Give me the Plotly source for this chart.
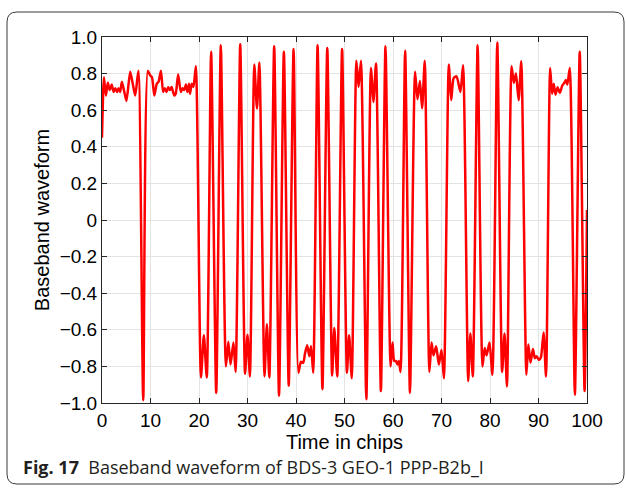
import plotly.graph_objects as go

# Time (chips) and amplitude of the waveform's key points
t = [0, 0.4, 0.8, 1.2, 1.6, 2.0, 2.4, 2.75, 3.1, 3.4, 3.75, 4.1, 4.6, 5.05, 5.8, 6.3, 6.85, 7.5,
     8.5, 9.45, 9.95, 10.3, 10.8, 11.3, 11.65, 12.15, 12.6, 12.95, 13.3, 13.65, 14.0, 14.35,
     14.9, 15.2, 15.7, 16.25, 16.6, 16.95, 17.3, 17.6, 17.95, 18.15, 18.5, 18.85, 19.35,
     20.4, 21.0, 21.6, 22.5, 23.55, 24.5, 25.55, 26.05, 26.5, 27.1, 27.55, 28.5, 29.5, 30.0,
     30.5, 31.4, 31.95, 32.45, 33.5, 34.0, 34.5, 35.5, 36.5, 37.5, 38.5, 39.5, 40.5, 41.0,
     41.5, 41.85, 42.3, 42.75, 43.1, 43.55, 44.45, 45.45, 46.45, 47.45, 47.9, 48.5, 49.5,
     50.5, 50.95, 51.5, 52.45, 52.9, 53.4, 54.5, 55.45, 55.95, 56.5, 57.5, 58.45, 59.5,
     59.9, 60.25, 60.6, 60.9, 61.2, 61.55, 62.5, 63.5, 64.55, 65.05, 65.55, 66.0, 66.55,
     67.5, 67.95, 68.35, 68.9, 69.45, 70.0, 70.5, 71.5, 72.0, 72.5, 73.1, 73.9, 74.45,
     75.5, 75.95, 76.45, 77.45, 78.45, 78.9, 79.3, 79.9, 80.5, 81.5, 82.5, 83.0, 83.5,
     84.45, 84.9, 85.35, 85.9, 86.45, 87.5, 87.9, 88.35, 88.85, 89.25, 89.6, 90.1, 90.5,
     91.05, 91.55, 92.4, 92.8, 93.15, 93.5, 93.95, 94.4, 94.9, 95.35, 95.65, 95.95, 96.45,
     97.5, 98.5, 99.5, 100]
v = [0.45, 0.78, 0.68, 0.75, 0.71, 0.74, 0.70, 0.72, 0.70, 0.72, 0.70, 0.755, 0.70, 0.65, 0.81, 0.75, 0.68, 0.815,
     -0.985, 0.815, 0.79, 0.78, 0.68, 0.745, 0.755, 0.815, 0.70, 0.72, 0.70, 0.725, 0.71, 0.727,
     0.68, 0.69, 0.795, 0.70, 0.72, 0.71, 0.74, 0.70, 0.745, 0.69, 0.745, 0.727, 0.84,
     -0.86, -0.63, -0.86, 0.92, -0.945, 0.955, -0.80, -0.665, -0.79, -0.67, -0.83, 0.96, -0.84, -0.627,
     -0.855, 0.85, 0.61, 0.86, -0.855, -0.57, -0.86, 0.95, -0.96, 0.92, -0.905, 0.935, -0.835, -0.775,
     -0.78, -0.73, -0.685, -0.745, -0.69, -0.835, 0.955, -0.925, 0.94, -0.85, -0.59, -0.855, 0.935,
     -0.835, -0.63, -0.865, 0.87, 0.727, 0.87, -0.98, 0.83, 0.645, 0.855, -0.935, 0.95, -0.80,
     -0.67, -0.77, -0.77, -0.79, -0.77, -0.83, 0.925, -0.945, 0.81, 0.66, 0.76, 0.61, 0.87,
     -0.83, -0.67, -0.74, -0.69, -0.79, -0.71, -0.865, 0.85, 0.655, 0.775, 0.785, 0.70, 0.845,
     -0.88, -0.62, -0.855, 0.955, -0.80, -0.70, -0.74, -0.67, -0.845, 0.97, -0.83, -0.62, -0.91,
     0.84, 0.75, 0.80, 0.655, 0.867, -0.845, -0.68, -0.78, -0.705, -0.755, -0.745, -0.765, -0.75,
     -0.615, -0.855, 0.83, 0.69, 0.745, 0.685, 0.725, 0.695, 0.735, 0.75, 0.765, 0.74, 0.83,
     -0.955, 0.92, -0.935, 0.055]

x_ticks = [0, 10, 20, 30, 40, 50, 60, 70, 80, 90, 100]
y_tick_vals = [1.0, 0.8, 0.6, 0.4, 0.2, 0, -0.2, -0.4, -0.6, -0.8, -1.0]
y_tick_text = ["1.0", "0.8", "0.6", "0.4", "0.2", "0", "\u22120.2", "\u22120.4", "\u22120.6",
               "\u22120.8", "\u22121.0"]

W, H = 626, 495
L, R, T, B = 102, 39, 37, 92
PW, PH = W - L - R, H - T - B


def px(xp):
    return (xp - L) / PW


def py(yp):
    return (H - B - yp) / PH


fig = go.Figure(go.Scatter(x=t, y=v, mode="lines",
                           line=dict(color="#ff0000", width=2.5, shape="spline", smoothing=0.6),
                           hoverinfo="skip"))

tick_font = dict(family="Liberation Sans, Arial, sans-serif", size=19, color="#000000")
title_font = dict(family="Liberation Sans, Arial, sans-serif", size=20, color="#000000")

fig.update_xaxes(range=[0, 100], tickvals=x_ticks, ticks="inside", ticklen=5,
                 tickcolor="#262626", showline=True, linecolor="#262626", linewidth=1,
                 mirror="ticks", showgrid=True, gridcolor="#e3e3e3", gridwidth=1,
                 zeroline=False, tickfont=tick_font,
                 title=dict(text="Time in chips", font=title_font, standoff=2))
fig.update_yaxes(range=[-1.0, 1.0], tickvals=y_tick_vals, ticktext=y_tick_text,
                 ticks="inside", ticklen=5, tickcolor="#262626", showline=True,
                 linecolor="#262626", linewidth=1, mirror="ticks", showgrid=True,
                 gridcolor="#e3e3e3", gridwidth=1, zeroline=False, tickfont=tick_font,
                 title=dict(text="Baseband waveform", font=title_font, standoff=4))

# rounded frame around the figure
x0, x1, y0, y1, r = 7, 624, 12, 484, 10
path = (f"M {px(x0 + r)},{py(y0)} L {px(x1 - r)},{py(y0)} Q {px(x1)},{py(y0)} {px(x1)},{py(y0 + r)} "
        f"L {px(x1)},{py(y1 - r)} Q {px(x1)},{py(y1)} {px(x1 - r)},{py(y1)} "
        f"L {px(x0 + r)},{py(y1)} Q {px(x0)},{py(y1)} {px(x0)},{py(y1 - r)} "
        f"L {px(x0)},{py(y0 + r)} Q {px(x0)},{py(y0)} {px(x0 + r)},{py(y0)} Z")
fig.add_shape(type="path", path=path, xref="paper", yref="paper",
              line=dict(color="#3a3a3a", width=1), fillcolor="rgba(0,0,0,0)", layer="below")

fig.add_annotation(xref="paper", yref="paper", x=px(21), y=py(467), xanchor="left",
                   yanchor="middle", showarrow=False,
                   text="<b>Fig. 17</b>  Baseband waveform of BDS-3 GEO-1 PPP-B2b_I",
                   font=dict(family="Open Sans, Noto Sans, sans-serif", size=18, color="#231f20"))

fig.update_layout(width=W, height=H, margin=dict(l=L, r=R, t=T, b=B),
                  plot_bgcolor="white", paper_bgcolor="white", showlegend=False)

fig.write_html("out.html")
